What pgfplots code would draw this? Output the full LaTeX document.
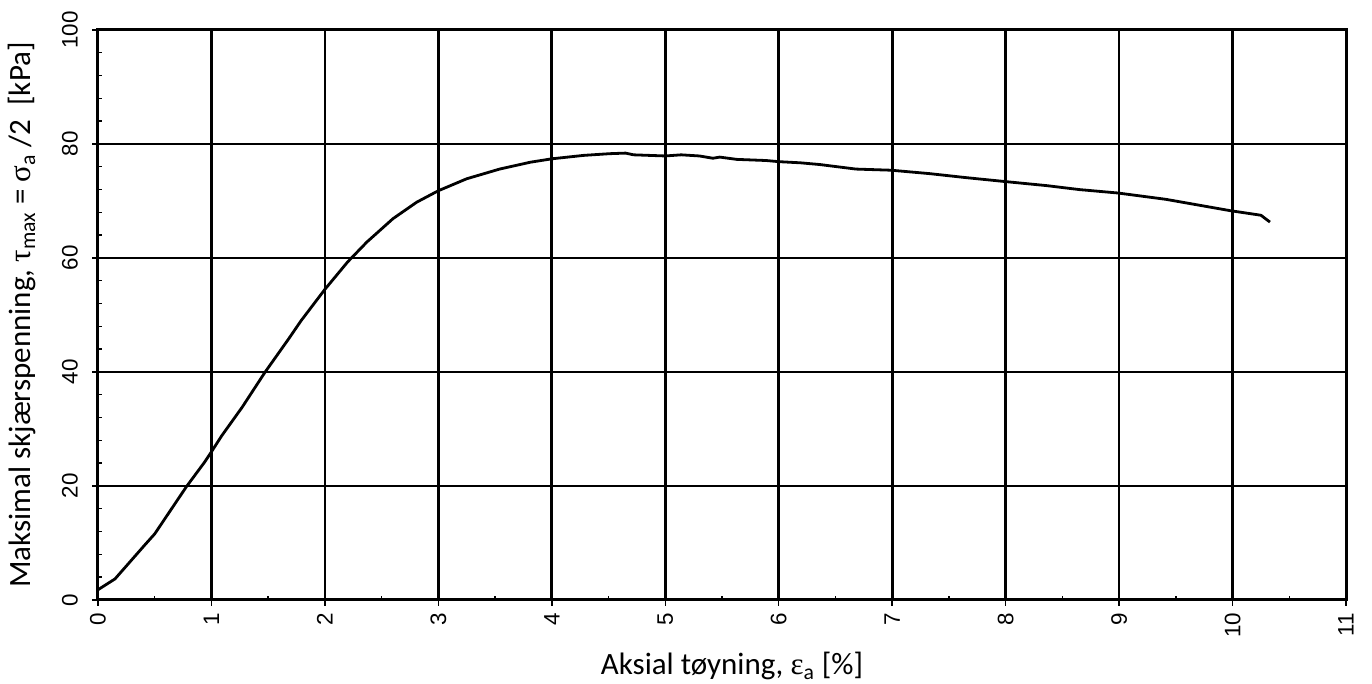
\documentclass[border=0pt]{standalone}
\usepackage{fontspec}
\setmainfont{Carlito}
\newfontfamily\arial{Liberation Sans}
\newfontfamily\symb{Liberation Serif}
\usepackage{pgfplots}
\pgfplotsset{compat=1.18}
\begin{document}
\begin{tikzpicture}
\useasboundingbox (0pt,0pt) rectangle (686pt,342pt);
\begin{axis}[
  at={(49pt,42pt)}, anchor=south west,
  scale only axis, width=624pt, height=285pt,
  xmin=0, xmax=11, ymin=0, ymax=100,
  xtick={0,1,...,11}, ytick={0,20,...,100},
  minor x tick num=1, minor y tick num=4,
  grid=major, major grid style={black, line width=1.4pt},
  axis line style={black, line width=1.5pt},
  tick pos=left, tick align=outside,
  major tick length=3pt, minor tick length=2.2pt,
  tick style={black, line width=0.7pt},
  minor x tick style={yshift=2.2pt},
  minor y tick style={xshift=2.2pt},
  /pgf/number format/assume math mode=true,
  xticklabel style={rotate=90, anchor=east, font=\arial\fontsize{11.2}{12}\selectfont},
  yticklabel style={rotate=90, anchor=south, font=\arial\fontsize{11.2}{12}\selectfont},
  yticklabel shift={3.5pt},
  xlabel={Aksial tøyning, {\symb ε}\textsubscript{a} [\%]},
  ylabel={Maksimal skjærspenning, {\symb τ}\textsubscript{max} = {\symb σ}\textsubscript{a} /2~~[kPa]},
  label style={font=\fontsize{15.5}{17}\selectfont, inner sep=0pt},
  xlabel style={at={([xshift=5pt,yshift=-26pt]axis description cs:0.5,0)}, anchor=north},
  ylabel style={at={([xshift=-45pt]axis description cs:0,0.5)}, anchor=north, rotate=0},
]
\addplot[black, line width=1.4pt, line join=round] coordinates {
(0,1.8)(0.15,3.7)(0.41,9.6)(0.5,11.6)(0.78,19.9)(0.94,24.2)(1.0,26.0)(1.09,28.8)
(1.27,33.8)(1.47,39.9)(1.68,45.8)(1.79,49.0)(2.0,54.5)(2.2,59.3)(2.37,62.8)(2.6,66.9)
(2.81,69.8)(3.0,71.8)(3.25,73.9)(3.54,75.6)(3.81,76.8)(4.0,77.4)(4.28,78.0)(4.51,78.3)
(4.65,78.4)(4.72,78.1)(5.0,77.9)(5.14,78.1)(5.3,77.9)(5.42,77.5)(5.48,77.7)(5.63,77.3)
(5.89,77.1)(6.0,76.9)(6.19,76.7)(6.36,76.4)(6.68,75.6)(6.99,75.4)(7.33,74.8)(7.65,74.1)
(8.0,73.4)(8.36,72.7)(8.65,72.0)(8.99,71.4)(9.41,70.3)(9.98,68.3)(10.25,67.5)(10.33,66.3)
};
\end{axis}
\end{tikzpicture}
\end{document}
